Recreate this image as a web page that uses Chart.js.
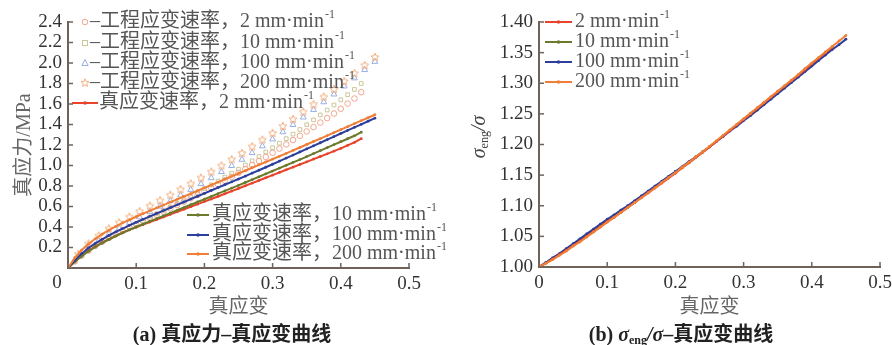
<!DOCTYPE html>
<html><head><meta charset="utf-8">
<script src="https://cdn.jsdelivr.net/npm/chart.js@4"></script>
<style>
html,body{margin:0;padding:0;background:#fff;}
#wrap{position:relative;width:892px;height:345px;overflow:hidden;background:#fff;}
canvas{position:absolute;top:0;}
#c1{left:0}
#c2{left:446px}
</style></head><body>
<div id="wrap"><canvas id="c1" width="446" height="345"></canvas><canvas id="c2" width="446" height="345"></canvas></div>
<script>
// ---------- data ----------
const strain = [0,0.01,0.02,0.03,0.04,0.05,0.06,0.07,0.08,0.09,0.10,0.11,0.12,0.13,0.14,0.15,0.16,0.17,0.18,0.19,0.20,0.21,0.22,0.23,0.24,0.25,0.26,0.27,0.28,0.29,0.30,0.31,0.32,0.33,0.34,0.35,0.36,0.37,0.38,0.39,0.40,0.41,0.42,0.43,0.44,0.45];
const strainEng = [0,0.015,0.03,0.045,0.06,0.075,0.09,0.105,0.12,0.135,0.15,0.165,0.18,0.195,0.21,0.225,0.24,0.255,0.27,0.285,0.30,0.315,0.33,0.345,0.36,0.375,0.39,0.405,0.42,0.435,0.45];

const trueStress2 = [0,0.065,0.12,0.168,0.21,0.248,0.282,0.314,0.344,0.372,0.398,0.423,0.448,0.473,0.498,0.523,0.548,0.573,0.598,0.623,0.648,0.673,0.698,0.724,0.75,0.776,0.802,0.828,0.854,0.88,0.906,0.932,0.958,0.984,1.01,1.036,1.062,1.088,1.114,1.14,1.167,1.196,1.225,1.262];
const trueStress10 = [0,0.06,0.115,0.163,0.205,0.243,0.278,0.311,0.342,0.372,0.40,0.428,0.455,0.482,0.509,0.536,0.563,0.59,0.617,0.644,0.671,0.698,0.725,0.752,0.779,0.806,0.834,0.862,0.89,0.918,0.946,0.974,1.002,1.03,1.058,1.087,1.116,1.145,1.174,1.203,1.232,1.261,1.29,1.325];
const trueStress100 = [0,0.075,0.14,0.195,0.24,0.28,0.318,0.352,0.385,0.416,0.446,0.475,0.504,0.532,0.56,0.588,0.616,0.644,0.672,0.70,0.728,0.756,0.784,0.812,0.84,0.868,0.896,0.925,0.954,0.983,1.012,1.042,1.072,1.102,1.132,1.162,1.192,1.222,1.252,1.282,1.312,1.342,1.372,1.402,1.432,1.462];
const trueStress200 = [0,0.10,0.175,0.235,0.285,0.33,0.37,0.405,0.44,0.47,0.50,0.53,0.558,0.586,0.614,0.642,0.67,0.698,0.726,0.754,0.782,0.81,0.838,0.866,0.894,0.922,0.95,0.978,1.006,1.034,1.062,1.09,1.118,1.147,1.176,1.205,1.234,1.263,1.292,1.321,1.35,1.379,1.408,1.437,1.466,1.495];

const engStress2 = [0,0.065,0.122,0.171,0.216,0.257,0.294,0.330,0.364,0.397,0.427,0.457,0.488,0.519,0.550,0.582,0.614,0.647,0.680,0.713,0.747,0.782,0.817,0.854,0.890,0.928,0.966,1.005,1.044,1.084,1.124,1.165,1.206,1.248,1.290,1.332,1.375,1.419,1.463,1.507,1.554,1.604,1.654,1.715];
const engStress10 = [0,0.060,0.116,0.166,0.211,0.252,0.290,0.327,0.362,0.397,0.430,0.463,0.495,0.529,0.562,0.597,0.631,0.666,0.702,0.737,0.774,0.811,0.848,0.887,0.925,0.964,1.005,1.046,1.088,1.131,1.174,1.218,1.262,1.306,1.351,1.398,1.445,1.493,1.541,1.590,1.641,1.691,1.742,1.800];
const engStress100 = [0,0.109,0.199,0.268,0.331,0.388,0.443,0.496,0.549,0.601,0.654,0.709,0.764,0.820,0.878,0.938,0.997,1.058,1.123,1.189,1.256,1.327,1.397,1.470,1.544,1.619,1.695,1.773,1.852,1.933,2.013];
const engStress200 = [0,0.139,0.240,0.317,0.386,0.445,0.501,0.555,0.608,0.661,0.715,0.770,0.825,0.882,0.941,1.001,1.061,1.123,1.187,1.253,1.318,1.386,1.454,1.526,1.598,1.672,1.746,1.823,1.901,1.980,2.059];

const ratio2 = [1.000,1.006,1.013,1.020,1.027,1.035,1.042,1.050,1.058,1.066,1.074,1.081,1.089,1.097,1.105,1.113,1.121,1.129,1.137,1.145,1.153,1.162,1.170,1.179,1.187,1.196,1.205,1.214,1.223,1.232,1.241,1.250,1.259,1.268,1.277,1.286,1.295,1.304,1.313,1.322,1.332,1.341,1.350,1.359];
const ratio10 = [1.000,1.007,1.014,1.021,1.028,1.036,1.043,1.051,1.059,1.067,1.075,1.082,1.090,1.098,1.106,1.114,1.122,1.130,1.138,1.146,1.154,1.162,1.171,1.179,1.188,1.196,1.205,1.214,1.223,1.232,1.241,1.250,1.259,1.268,1.277,1.286,1.295,1.304,1.313,1.322,1.331,1.340,1.349,1.358];
const ratio100 = [1.000,1.007,1.015,1.022,1.030,1.038,1.046,1.054,1.062,1.070,1.078,1.085,1.093,1.100,1.108,1.116,1.124,1.132,1.140,1.148,1.156,1.164,1.172,1.180,1.188,1.196,1.205,1.213,1.222,1.230,1.239,1.247,1.256,1.265,1.274,1.283,1.292,1.301,1.310,1.319,1.328,1.337,1.346,1.355,1.363,1.372];
const ratio200 = [1.000,1.006,1.012,1.019,1.026,1.034,1.041,1.049,1.057,1.065,1.073,1.081,1.089,1.097,1.105,1.113,1.121,1.129,1.138,1.146,1.154,1.163,1.171,1.180,1.188,1.197,1.206,1.215,1.224,1.233,1.242,1.251,1.260,1.269,1.278,1.287,1.296,1.305,1.314,1.324,1.333,1.342,1.351,1.360,1.369,1.378];

const xTicksAll = [0,0.1,0.2,0.3,0.4,0.5];
const yTicksLeft = [0,0.2,0.4,0.6,0.8,1.0,1.2,1.4,1.6,1.8,2.0,2.2,2.4];
const yTicksRight = [1.00,1.05,1.10,1.15,1.20,1.25,1.30,1.35,1.40];

// ---------- styles ----------
const FONT = "'Liberation Serif','Noto Sans CJK SC',serif";
const AXIS = '#6f625b';
const TICKTXT = '#333333';
const LEGTXT = '#555555';
const C = {
  red:'#e8432b', olive:'#6c7a2c', blue:'#2c3f9c', orange:'#f07e36',
  eRed:'#f2a48c', eOlive:'#cbc79b', eBlue:'#9aaee0', eOrange:'#f4ae7c'
};

function pts(xs, ys){ return ys.map((y,i)=>({x:xs[i], y:y})); }

function starPath(ctx, cx, cy, R){
  const r = R*0.45;
  ctx.beginPath();
  for(let i=0;i<10;i++){
    const rr = i%2===0?R:r;
    const a = -Math.PI/2 + i*Math.PI/5;
    const px = cx + rr*Math.cos(a), py = cy + rr*Math.sin(a);
    if(i===0) ctx.moveTo(px,py); else ctx.lineTo(px,py);
  }
  ctx.closePath();
}
const starImg = document.createElement('canvas');
starImg.width = 10; starImg.height = 10;
(function(){ const g = starImg.getContext('2d'); g.strokeStyle = C.eOrange; g.lineWidth = 1; starPath(g,5,5.4,4.2); g.stroke(); })();

function drawMarker(ctx, type, x, y, color){
  ctx.save();
  ctx.strokeStyle = color; ctx.fillStyle = color; ctx.lineWidth = 1;
  if(type==='circle'){ ctx.beginPath(); ctx.arc(x,y,2.8,0,Math.PI*2); ctx.stroke(); }
  else if(type==='rect'){ ctx.strokeRect(x-2.5,y-2.5,5,5); }
  else if(type==='triangle'){ ctx.beginPath(); ctx.moveTo(x,y-3.5); ctx.lineTo(x+3.2,y+2.5); ctx.lineTo(x-3.2,y+2.5); ctx.closePath(); ctx.stroke(); }
  else if(type==='star'){ starPath(ctx,x,y,4.2); ctx.stroke(); }
  else if(type==='dot'){ ctx.beginPath(); ctx.arc(x,y,1.8,0,Math.PI*2); ctx.fill(); }
  ctx.restore();
}

function supText(ctx, x, y, main, sup, size, color){
  ctx.save();
  ctx.fillStyle = color; ctx.textBaseline = 'middle'; ctx.textAlign = 'left';
  ctx.font = size + 'px ' + FONT;
  ctx.fillText(main, x, y);
  const w = ctx.measureText(main).width;
  ctx.font = Math.round(size*0.6) + 'px ' + FONT;
  ctx.fillText(sup, x + w + 1, y - 7);
  ctx.restore();
}

function insideTicks(chart){
  const ctx = chart.ctx, a = chart.chartArea;
  const xs = chart.scales.x, ys = chart.scales.y;
  ctx.save(); ctx.strokeStyle = AXIS; ctx.lineWidth = 1.5;
  xs.ticks.forEach(t=>{ const p = xs.getPixelForValue(t.value); ctx.beginPath(); ctx.moveTo(p, a.bottom); ctx.lineTo(p, a.bottom-5); ctx.stroke(); });
  ys.ticks.forEach(t=>{ const p = ys.getPixelForValue(t.value); ctx.beginPath(); ctx.moveTo(a.left, p); ctx.lineTo(a.left+5, p); ctx.stroke(); });
  ctx.restore();
}

function lineSample(ctx, x1, x2, y, color){
  ctx.save(); ctx.strokeStyle = color; ctx.lineWidth = 2;
  ctx.beginPath(); ctx.moveTo(x1,y); ctx.lineTo(x2,y); ctx.stroke(); ctx.restore();
  drawMarker(ctx, 'dot', (x1+x2)/2, y, color);
}

// ---------- left chart plugin ----------
const leftDecor = {
  id:'leftDecor',
  afterDraw(chart){
    const ctx = chart.ctx, a = chart.chartArea;
    insideTicks(chart);
    ctx.save(); ctx.fillStyle = TICKTXT; ctx.font = '19px ' + FONT; ctx.textAlign='center'; ctx.textBaseline='middle';
    ctx.fillText('0', a.left-11, a.bottom+15); ctx.restore();
    const engRows = [
      {m:'circle', c:C.eRed, t:'–工程应变速率，2 mm·min'},
      {m:'rect', c:C.eOlive, t:'–工程应变速率，10 mm·min'},
      {m:'triangle', c:C.eBlue, t:'–工程应变速率，100 mm·min'},
      {m:'star', c:C.eOrange, t:'–工程应变速率，200 mm·min'}
    ];
    const rowY = [22, 43, 63, 83, 103];
    engRows.forEach((r,i)=>{
      drawMarker(ctx, r.m, 85, rowY[i], r.c);
      supText(ctx, 90, rowY[i], r.t, '-1', 20, LEGTXT);
    });
    lineSample(ctx, 72, 98, rowY[4], C.red);
    supText(ctx, 99, rowY[4], '真应变速率，2 mm·min', '-1', 20, LEGTXT);
    const low = [
      {c:C.olive, t:'真应变速率，10 mm·min', y:215},
      {c:C.blue, t:'真应变速率，100 mm·min', y:235},
      {c:C.orange, t:'真应变速率，200 mm·min', y:254}
    ];
    low.forEach(r=>{ lineSample(ctx, 187, 209, r.y, r.c); supText(ctx, 212, r.y, r.t, '-1', 20, LEGTXT); });
    ctx.save();
    ctx.fillStyle = '#666'; ctx.font = '20px ' + FONT; ctx.textAlign='center'; ctx.textBaseline='middle';
    ctx.fillText('真应变', (a.left+a.right)/2, 308);
    ctx.fillStyle = '#222'; ctx.font = 'bold 20px ' + FONT;
    ctx.fillText('(a) 真应力–真应变曲线', 232, 336);
    ctx.translate(25, 145); ctx.rotate(-Math.PI/2);
    ctx.fillStyle = '#666'; ctx.font = '20px ' + FONT;
    ctx.fillText('真应力/MPa', 0, 0);
    ctx.restore();
  }
};

// ---------- right chart plugin ----------
function sigmaEng(ctx, x, y, size, bold, align){
  const b = bold ? 'bold ' : '';
  const parts = [
    {t:'σ', f:b+'italic '+size+'px '+FONT, dy:0},
    {t:'eng', f:b+Math.round(size*0.6)+'px '+FONT, dy:5},
    {t:'/σ', f:b+'italic '+size+'px '+FONT, dy:0}
  ];
  let total = 0;
  parts.forEach(p=>{ ctx.font = p.f; p.w = ctx.measureText(p.t).width; total += p.w; });
  let cx = align==='center' ? x - total/2 : x;
  ctx.textAlign = 'left';
  parts.forEach(p=>{ ctx.font = p.f; ctx.fillText(p.t, cx, y + p.dy); cx += p.w; });
  return total;
}
const rightDecor = {
  id:'rightDecor',
  afterDraw(chart){
    const ctx = chart.ctx, a = chart.chartArea;
    insideTicks(chart);
    const rows = [
      {c:C.red, t:'2 mm·min', y:22},
      {c:C.olive, t:'10 mm·min', y:42},
      {c:C.blue, t:'100 mm·min', y:62},
      {c:C.orange, t:'200 mm·min', y:82}
    ];
    rows.forEach(r=>{ lineSample(ctx, 99, 126, r.y, r.c); supText(ctx, 129, r.y, r.t, '-1', 20, LEGTXT); });
    ctx.save();
    ctx.fillStyle = '#666'; ctx.font = '20px ' + FONT; ctx.textAlign='center'; ctx.textBaseline='middle';
    ctx.fillText('真应变', (a.left+a.right)/2, 308);
    ctx.fillStyle = '#222'; ctx.textBaseline='middle';
    const pre = '(b) ', post = '–真应变曲线';
    ctx.font = 'bold 20px ' + FONT; const wPre = ctx.measureText(pre).width, wPost = ctx.measureText(post).width;
    let wS = 0; [['σ','bold italic 20px '],['eng','bold 12px '],['/σ','bold italic 20px ']].forEach(p=>{ctx.font=p[1]+FONT; wS+=ctx.measureText(p[0]).width;});
    let x0 = 235 - (wPre + wS + wPost)/2;
    ctx.textAlign='left'; ctx.font = 'bold 20px ' + FONT; ctx.fillText(pre, x0, 336);
    const ws = sigmaEng(ctx, x0 + wPre, 336, 20, true, 'left');
    ctx.font = 'bold 20px ' + FONT; ctx.fillText(post, x0 + wPre + ws, 336);
    ctx.fillStyle = '#444';
    ctx.translate(34, 137); ctx.rotate(-Math.PI/2);
    sigmaEng(ctx, 0, 0, 20, false, 'center');
    ctx.restore();
  }
};

// ---------- common options ----------
function baseOpts(cfg){
  return {
    responsive:false, animation:false, devicePixelRatio:1,
    layout:{padding:{left:0, right:cfg.padR, top:22, bottom:0}},
    plugins:{legend:{display:false}, tooltip:{enabled:false}},
    scales:{
      x:{type:'linear', min:0, max:0.5,
        afterBuildTicks(s){ s.ticks = xTicksAll.map(v=>({value:v})); },
        afterFit(s){ s.height = cfg.xH; s.paddingLeft = 0; s.paddingRight = 0; },
        grid:{display:true, drawOnChartArea:false, drawTicks:false},
        border:{display:true, color:AXIS, width:2},
        ticks:{padding:5, color:TICKTXT, font:{family:FONT, size:19}, maxRotation:0, autoSkip:false,
          callback:cfg.xCb}
      },
      y:{type:'linear', min:cfg.yMin, max:cfg.yMax,
        afterBuildTicks(s){ s.ticks = cfg.yTicks.map(v=>({value:v})); },
        afterFit(s){ s.width = cfg.yW; },
        grid:{display:true, drawOnChartArea:false, drawTicks:false},
        border:{display:true, color:AXIS, width:2},
        ticks:{padding:6, color:TICKTXT, font:{family:FONT, size:19}, autoSkip:false,
          callback:cfg.yCb}
      }
    }
  };
}

function lineDs(label, xs, ys, color, order){
  return {label, data:pts(xs,ys), showLine:true, borderColor:color, backgroundColor:color,
    borderWidth:2, pointRadius:1.4, pointStyle:'circle', pointBorderWidth:0, tension:0, order};
}
function markDs(label, xs, ys, color, style, r, order){
  return {label, data:pts(xs,ys), showLine:false, borderColor:color, backgroundColor:'rgba(255,255,255,0)',
    pointStyle:style, pointRadius:r, pointBorderWidth:1, order};
}

new Chart(document.getElementById('c1'), {
  type:'scatter',
  data:{datasets:[
    markDs('工程应变速率，2 mm·min-1', strain, engStress2, C.eRed, 'circle', 2.8, 8),
    markDs('工程应变速率，10 mm·min-1', strain, engStress10, C.eOlive, 'rect', 2.6, 9),
    markDs('工程应变速率，100 mm·min-1', strainEng, engStress100, C.eBlue, 'triangle', 3.4, 7),
    markDs('工程应变速率，200 mm·min-1', strainEng, engStress200, C.eOrange, starImg, 4, 6),
    lineDs('真应变速率，2 mm·min-1', strain, trueStress2, C.red, 3),
    lineDs('真应变速率，10 mm·min-1', strain, trueStress10, C.olive, 2),
    lineDs('真应变速率，100 mm·min-1', strain, trueStress100, C.blue, 1),
    lineDs('真应变速率，200 mm·min-1', strain, trueStress200, C.orange, 0)
  ]},
  options: baseOpts({padR:37, xH:77, yW:68, yMin:0, yMax:2.4, yTicks:yTicksLeft,
    xCb:(v)=> v===0 ? '' : String(Math.round(v*10)/10),
    yCb:(v)=> Math.abs(v)<1e-9 ? '' : (Math.round(v*10)/10).toFixed(1)}),
  plugins:[leftDecor]
});

new Chart(document.getElementById('c2'), {
  type:'scatter',
  data:{datasets:[
    lineDs('2 mm·min-1', strain, ratio2, C.red, 1),
    lineDs('10 mm·min-1', strain, ratio10, C.olive, 3),
    lineDs('100 mm·min-1', strain, ratio100, C.blue, 2),
    lineDs('200 mm·min-1', strain, ratio200, C.orange, 0)
  ]},
  options: baseOpts({padR:12, xH:78, yW:93, yMin:1.0, yMax:1.4, yTicks:yTicksRight,
    xCb:(v)=> String(Math.round(v*10)/10),
    yCb:(v)=> (Math.round(v*100)/100).toFixed(2)}),
  plugins:[rightDecor]
});
</script>
</body></html>
